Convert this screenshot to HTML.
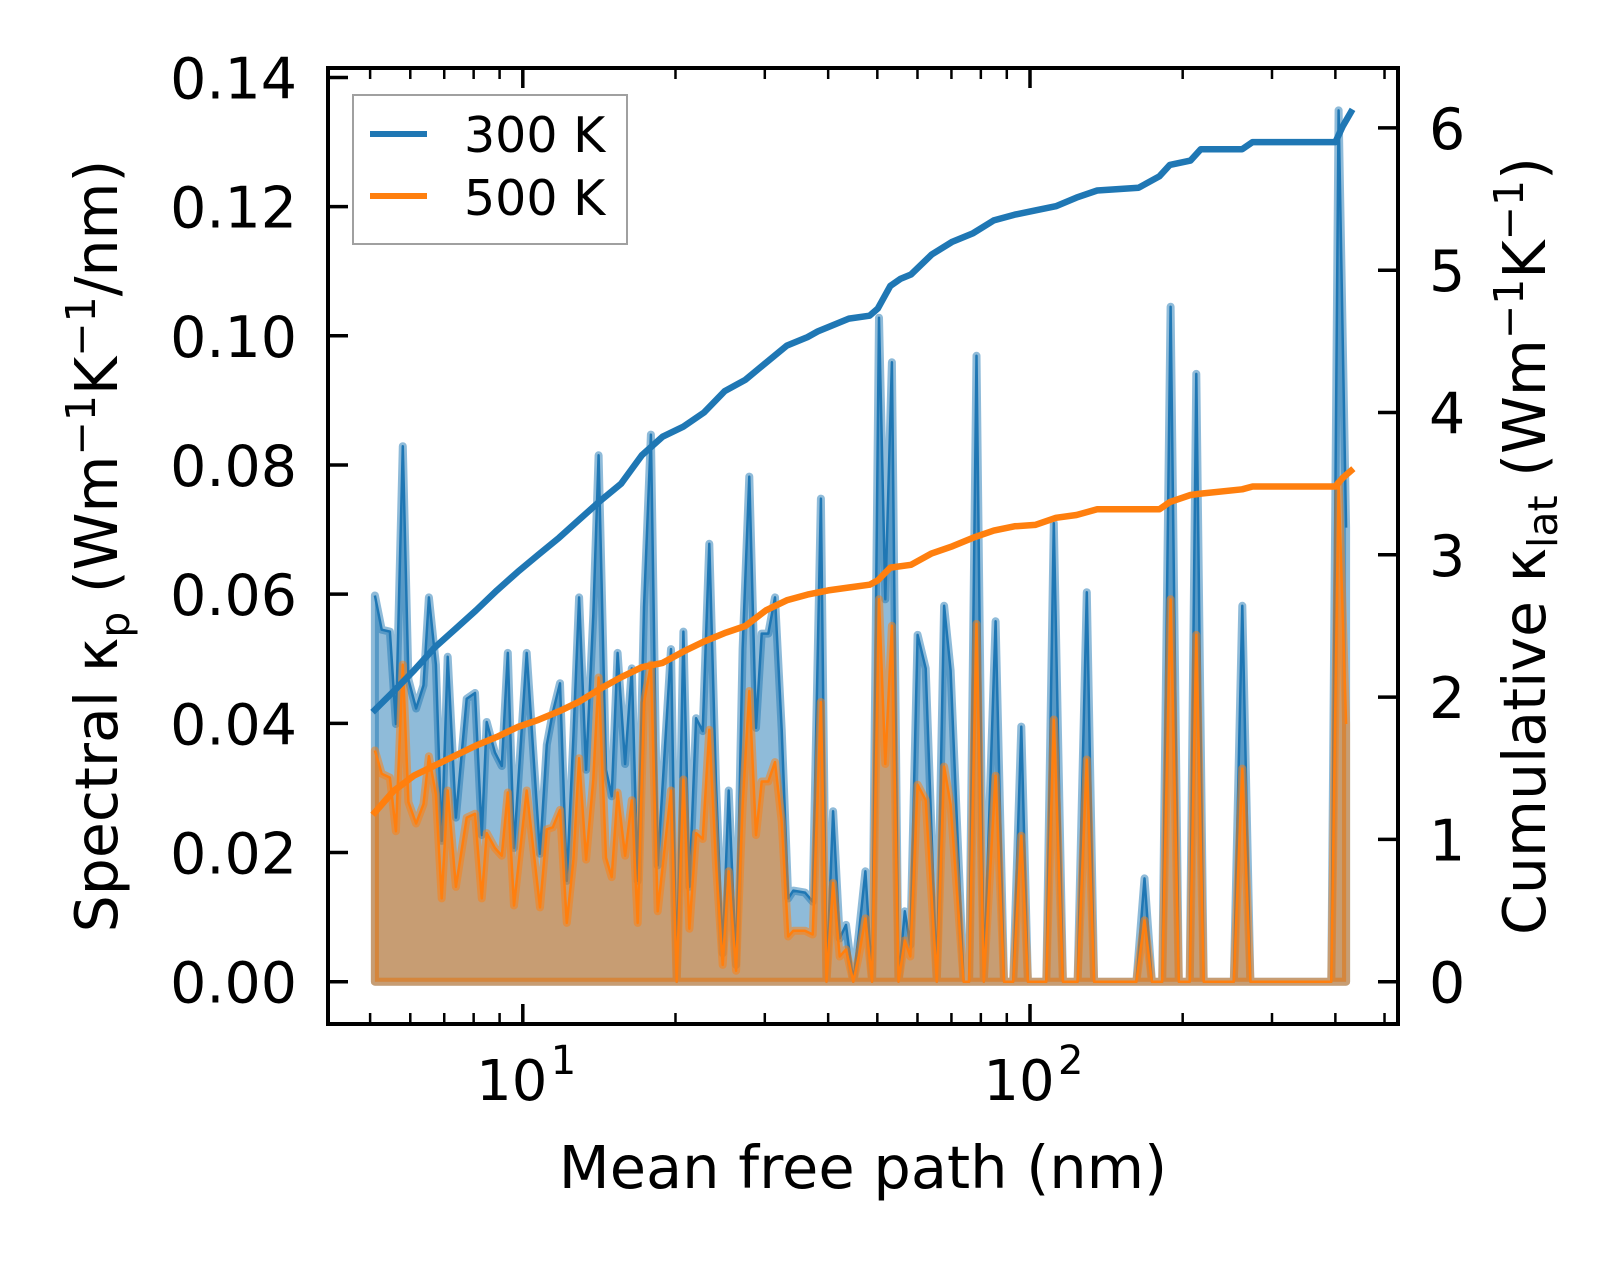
<!DOCTYPE html>
<html><head><meta charset="utf-8">
<style>
html,body{margin:0;padding:0;background:#fff;}
svg{display:block;font-family:"DejaVu Sans","Liberation Sans",sans-serif;}
</style></head>
<body>
<svg id="chart" width="1623" height="1263" viewBox="0 0 1623 1263" xmlns="http://www.w3.org/2000/svg">
  <defs><clipPath id="plotclip"><rect x="328" y="68" width="1070" height="956"/></clipPath></defs>
  <rect x="0" y="0" width="1623" height="1263" fill="#fff"/>
  <g id="plot" clip-path="url(#plotclip)"></g>
  <g id="axes"></g>
  <text x="863" y="1188" font-size="59" text-anchor="middle">Mean free path (nm)</text>
  <text transform="translate(117,546) rotate(-90)" font-size="58.5" text-anchor="middle">Spectral κ<tspan font-size="41" dy="12">p</tspan><tspan dy="-12"> (Wm</tspan><tspan font-size="41" dy="-22">−1</tspan><tspan dy="22">K</tspan><tspan font-size="41" dy="-22">−1</tspan><tspan dy="22">/nm)</tspan></text>
  <text transform="translate(1545,546) rotate(-90)" font-size="58.5" text-anchor="middle">Cumulative κ<tspan font-size="41" dy="12">lat</tspan><tspan dy="-12"> (Wm</tspan><tspan font-size="41" dy="-22">−1</tspan><tspan dy="22">K</tspan><tspan font-size="41" dy="-22">−1</tspan><tspan dy="22">)</tspan></text>
  <g>
    <rect x="353" y="95" width="274" height="149" fill="#fff" fill-opacity="0.8" stroke="#a0a0a0" stroke-width="2"/>
    <line x1="370" y1="134" x2="427" y2="134" stroke="#1f77b4" stroke-width="6"/>
    <text x="464" y="152" font-size="49">300 K</text>
    <line x1="370" y1="196" x2="427" y2="196" stroke="#ff7f0e" stroke-width="6"/>
    <text x="464" y="215" font-size="49">500 K</text>
  </g>
</svg>
<script>
const mfp = [5.11,5.27,5.47,5.62,5.80,5.95,6.16,6.37,6.53,6.74,6.92,7.11,7.38,7.75,8.05,8.30,8.49,8.81,9.09,9.34,9.61,10.18,10.81,11.15,11.46,11.84,12.21,12.58,12.91,13.33,13.77,14.11,14.59,14.97,15.38,15.91,16.40,16.85,17.34,17.89,18.45,19.60,20.11,20.73,21.30,21.96,22.63,23.32,24.04,24.78,25.46,26.33,27.13,27.96,28.82,29.58,30.48,31.42,32.39,33.37,34.14,36.01,37.29,38.71,39.70,40.91,42.16,43.38,44.84,45.97,47.37,48.83,50.39,51.85,53.43,55.05,56.64,58.07,60.03,62.28,65.49,67.70,69.75,73.97,75.86,78.45,81.09,85.54,88.88,92.67,96.13,99.04,107.7,111.4,116.1,124.1,129.4,133.8,162.1,168.2,173.9,182.2,189.3,196.5,206.5,212.8,220.0,252.2,262.2,272.0,392.7,406.0,419.9];
const spec300 = [0.0598,0.0545,0.0542,0.0399,0.0829,0.0468,0.0423,0.0459,0.0595,0.0491,0.0218,0.0503,0.0254,0.0438,0.0447,0.0227,0.0402,0.0355,0.0334,0.0509,0.0207,0.0509,0.0198,0.0367,0.0417,0.0462,0.0156,0.0379,0.0595,0.0328,0.0568,0.0815,0.0328,0.0287,0.0509,0.0337,0.0485,0.0156,0.0580,0.0847,0.0180,0.0515,0.0,0.0542,0.0147,0.0408,0.0388,0.0678,0.0307,0.0044,0.0296,0.0026,0.0515,0.0782,0.0393,0.0539,0.0539,0.0595,0.0390,0.0129,0.0141,0.0138,0.0124,0.0748,0,0.0264,0.0067,0.0088,0,0.0074,0.0171,0,0.1028,0.0592,0.0959,0,0.0109,0.0057,0.0537,0.0485,0,0.0582,0.0482,0,0,0.0969,0,0.0558,0,0,0.0395,0,0,0.0710,0,0,0.0603,0,0,0.0160,0,0,0.1045,0,0,0.0941,0,0,0.0582,0,0,0.1349,0.0703];
const spec500 = [0.0358,0.0322,0.0316,0.0233,0.0491,0.0278,0.0245,0.0275,0.0349,0.0290,0.0129,0.0296,0.0147,0.0254,0.0260,0.0129,0.0230,0.0207,0.0195,0.0293,0.0118,0.0296,0.0115,0.0236,0.0239,0.0266,0.0091,0.0189,0.0346,0.0189,0.0313,0.0471,0.0192,0.0162,0.0293,0.0195,0.0281,0.0091,0.0432,0.0491,0.0109,0.0296,0,0.0313,0.0082,0.0230,0.0221,0.0390,0.0183,0.0026,0.0171,0.0017,0.0272,0.0450,0.0227,0.0310,0.0310,0.0340,0.0248,0.0070,0.0079,0.0079,0.0073,0.0433,0,0.0153,0.0039,0.0050,0,0.0040,0.0098,0,0.0592,0.0337,0.0551,0,0.0064,0.0039,0.0305,0.0281,0,0.0333,0.0274,0,0,0.0554,0,0.0319,0,0,0.0226,0,0,0.0406,0,0,0.0344,0,0,0.0095,0,0,0.0592,0,0,0.0537,0,0,0.0330,0,0,0.0772,0.0399];
const cum300X = [5.11,5.56,6.11,6.71,7.37,8.09,8.89,9.77,10.73,11.79,12.95,14.22,15.63,17.17,18.86,20.72,22.76,25.00,27.47,30.17,33.15,36.41,38.16,40.00,43.94,48.28,50.12,53.04,55.59,58.27,64.01,70.31,77.24,84.84,93.20,102.4,112.5,123.5,135.7,149.1,163.8,179.9,188.6,207.2,217.1,262.0,274.7,400.0,413.4,429.3];
const cum300 = [1.91,2.04,2.19,2.35,2.48,2.61,2.75,2.88,3.00,3.12,3.25,3.38,3.50,3.70,3.83,3.90,4.00,4.15,4.23,4.35,4.47,4.53,4.57,4.60,4.66,4.68,4.73,4.89,4.94,4.97,5.11,5.20,5.26,5.35,5.39,5.42,5.45,5.51,5.56,5.57,5.58,5.66,5.74,5.77,5.85,5.85,5.90,5.90,6.01,6.11];
const cum500X = [5.11,5.56,6.11,6.71,7.37,8.09,8.89,9.77,10.73,11.79,12.95,14.22,15.63,17.17,18.86,20.72,22.76,25.00,27.47,30.17,33.15,36.41,40.00,43.94,48.28,50.12,53.04,58.27,64.01,70.31,77.24,84.84,93.20,102.4,112.5,123.5,135.7,149.1,179.9,188.6,207.2,217.1,262.0,274.7,400.0,413.4,429.3];
const cum500 = [1.19,1.34,1.45,1.52,1.59,1.66,1.72,1.79,1.84,1.90,1.97,2.06,2.14,2.21,2.24,2.32,2.39,2.45,2.50,2.61,2.68,2.72,2.75,2.77,2.79,2.82,2.91,2.93,3.01,3.06,3.12,3.17,3.20,3.21,3.26,3.28,3.32,3.32,3.32,3.37,3.42,3.43,3.46,3.48,3.48,3.54,3.59];
const leftTicks = [0,0.02,0.04,0.06,0.08,0.10,0.12,0.14];
const leftTickLabels = ["0.00","0.02","0.04","0.06","0.08","0.10","0.12","0.14"];
const rightTicks = [0,1,2,3,4,5,6];
const xMajor = [10,100];
const xMajorExp = ["1","2"];
const xMinor = [5,6,7,8,9,20,30,40,50,60,70,80,90,200,300,400,500];

const NS = "http://www.w3.org/2000/svg";
const X0=328,X1=1398,Y0=68,Y1=1024;
function xs(v){return 522.8+(Math.log10(v)-1)*507.2;}
function yl(v){return 981.7-v*6459;}
function yr(v){return 981.7-v*142.3;}
function mk(tag,attrs,parent){const e=document.createElementNS(NS,tag);for(const k in attrs)e.setAttribute(k,attrs[k]);parent.appendChild(e);return e;}
const plot=document.getElementById('plot');
const axes=document.getElementById('axes');

function area(vals,color,name){
  let d='M'+xs(mfp[0]).toFixed(1)+','+yl(0).toFixed(1);
  for(let i=0;i<mfp.length;i++) d+=' L'+xs(mfp[i]).toFixed(1)+','+yl(vals[i]).toFixed(1);
  d+=' L'+xs(mfp[mfp.length-1]).toFixed(1)+','+yl(0).toFixed(1)+' Z';
  const p=mk('path',{d:d,fill:color,'fill-opacity':0.5,stroke:color,'stroke-opacity':0.5,'stroke-width':8,'stroke-linejoin':'round'},plot);
  
  
  let d2='';
  for(let i=0;i<mfp.length;i++) d2+=(i?' L':'M')+xs(mfp[i]).toFixed(1)+','+yl(vals[i]).toFixed(1);
  const l=mk('path',{d:d2,fill:'none',stroke:color,'stroke-width':2.5,'stroke-linejoin':'round'},plot);
  
  
}
area(spec300,'#1f77b4','spectral-300k');
area(spec500,'#ff7f0e','spectral-500k');

function cumLine(xv,yv,color,name){
  let d='';
  for(let i=0;i<xv.length;i++) d+=(i?' L':'M')+xs(xv[i]).toFixed(1)+','+yr(yv[i]).toFixed(1);
  const l=mk('path',{d:d,fill:'none',stroke:color,'stroke-width':6.5,'stroke-linejoin':'round','stroke-linecap':'square'},plot);
  
  
}
cumLine(cum300X,cum300,'#1f77b4','cumulative-300k-line');
cumLine(cum500X,cum500,'#ff7f0e','cumulative-500k-line');

leftTicks.forEach((v,i)=>{
  const y=yl(v);
  const t=mk('line',{x1:X0,y1:y,x2:X0+20,y2:y,stroke:'#000','stroke-width':3.5},axes);
  
  
  const tx=mk('text',{x:297,y:y+21,'font-size':57,'text-anchor':'end'},axes);
  tx.textContent=leftTickLabels[i];
  
  
});
rightTicks.forEach(v=>{
  const y=yr(v);
  const t=mk('line',{x1:X1-20,y1:y,x2:X1,y2:y,stroke:'#000','stroke-width':3.5},axes);
  
  
  const tx=mk('text',{x:1429,y:y+21,'font-size':57},axes);
  tx.textContent=String(v);
  
  
});
xMajor.forEach((v,i)=>{
  const x=xs(v);
  [[Y1,Y1-20],[Y0,Y0+20]].forEach(p=>{
    const t=mk('line',{x1:x,y1:p[0],x2:x,y2:p[1],stroke:'#000','stroke-width':3.5},axes);
    
    
  });
  const tx=mk('text',{x:x-11,y:1100,'font-size':56,'text-anchor':'middle'},axes);
  tx.textContent='10';
  
  
  const sp=mk('text',{x:x+28,y:1074,'font-size':40,'text-anchor':'start'},axes);
  sp.textContent=xMajorExp[i];
  
  
});
xMinor.forEach(v=>{
  const x=xs(v);
  if(x<X0||x>X1)return;
  [[Y1,Y1-11],[Y0,Y0+11]].forEach(p=>{
    const t=mk('line',{x1:x,y1:p[0],x2:x,y2:p[1],stroke:'#000','stroke-width':2.5},axes);
    
    
  });
});
const frame=mk('rect',{x:X0,y:Y0,width:X1-X0,height:Y1-Y0,fill:'none',stroke:'#000','stroke-width':4},axes);


</script>
</body></html>
